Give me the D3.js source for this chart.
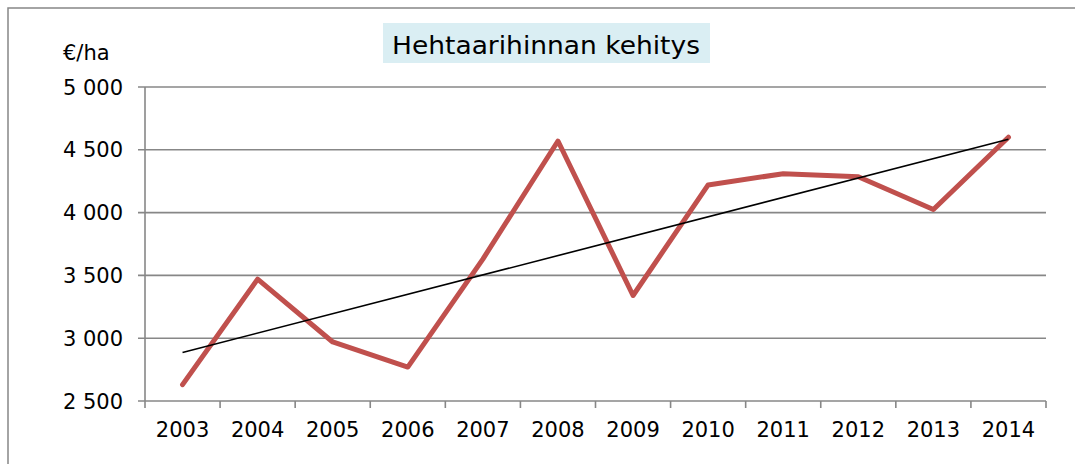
<!DOCTYPE html>
<html><head><meta charset="utf-8">
<script src="https://cdn.jsdelivr.net/npm/d3@7/dist/d3.min.js"></script>
<style>body{margin:0;background:#fff}svg{display:block}</style>
</head><body>
<svg id="c" width="1075" height="464"></svg>
<script>
const years = ["2003","2004","2005","2006","2007","2008","2009","2010","2011","2012","2013","2014"];
const prices = [2630,3470,2970,2770,3630,4570,3340,4220,4310,4285,4025,4600];
const yTicks = [2500,3000,3500,4000,4500,5000];
const titleText = "Hehtaarihinnan kehitys";
const unitText = "€/ha";

const svg = d3.select("#c");
const font = "'DejaVu Sans', Verdana, sans-serif";
const L = 145, R = 1046, T = 87, B = 401;

svg.append("rect").attr("x",8).attr("y",8).attr("width",1100).attr("height",500)
  .attr("fill","#fff").attr("stroke","#878787").attr("stroke-width",1.5);

const x = d3.scaleBand().domain(years).range([L,R]).padding(0);
const y = d3.scaleLinear().domain([2500,5000]).range([B,T]);

// gridlines
svg.append("g").selectAll("line").data(yTicks).join("line")
  .attr("x1",L-7).attr("x2",R).attr("y1",d=>y(d)).attr("y2",d=>y(d))
  .attr("stroke","#878787").attr("stroke-width",1.6);

// y axis line
svg.append("line").attr("x1",L).attr("x2",L).attr("y1",T).attr("y2",B+7)
  .attr("stroke","#878787").attr("stroke-width",1.6);
// x ticks at category boundaries
const bounds = years.map(d=>x(d)+x.bandwidth());
svg.append("g").selectAll("line").data(bounds).join("line")
  .attr("x1",d=>d).attr("x2",d=>d).attr("y1",B).attr("y2",B+7)
  .attr("stroke","#878787").attr("stroke-width",1.6);

const fmt = v => d3.format(",")(v).replace(/,/g," ");
svg.append("g").selectAll("text").data(yTicks).join("text")
  .attr("x",123).attr("y",d=>y(d)).attr("dy","0.36em").attr("text-anchor","end")
  .attr("font-family",font).attr("font-size",21).attr("fill","#000").text(fmt);

svg.append("g").selectAll("text").data(years).join("text")
  .attr("x",d=>x(d)+x.bandwidth()/2).attr("y",437).attr("text-anchor","middle")
  .attr("font-family",font).attr("font-size",21).attr("fill","#000").text(d=>d);

svg.append("text").attr("x",63).attr("y",60).attr("font-family",font).attr("font-size",21)
  .attr("fill","#000").text(unitText);

// title
svg.append("rect").attr("x",383).attr("y",23).attr("width",327).attr("height",40).attr("fill","#DAEEF3");
svg.append("text").attr("x",392).attr("y",54).attr("font-family",font).attr("font-size",24)
  .attr("textLength",308).attr("lengthAdjust","spacingAndGlyphs")
  .attr("fill","#000").text(titleText);

// data line
const cx = d=>x(d)+x.bandwidth()/2;
const line = d3.line().x((d,i)=>cx(years[i])).y(d=>y(d));
svg.append("path").datum(prices).attr("d",line).attr("fill","none")
  .attr("stroke","#C0504D").attr("stroke-width",5).attr("stroke-linejoin","round").attr("stroke-linecap","round");

// linear trendline (least squares)
const n = prices.length;
const xs = d3.range(1,n+1);
const mx = d3.mean(xs), my = d3.mean(prices);
const slope = d3.sum(xs.map((xi,i)=>(xi-mx)*(prices[i]-my))) / d3.sum(xs.map(xi=>(xi-mx)**2));
const icpt = my - slope*mx;
svg.append("line")
  .attr("x1",cx(years[0])).attr("y1",y(icpt+slope*1))
  .attr("x2",cx(years[n-1])).attr("y2",y(icpt+slope*n))
  .attr("stroke","#000").attr("stroke-width",1.6);
</script>
</body></html>
